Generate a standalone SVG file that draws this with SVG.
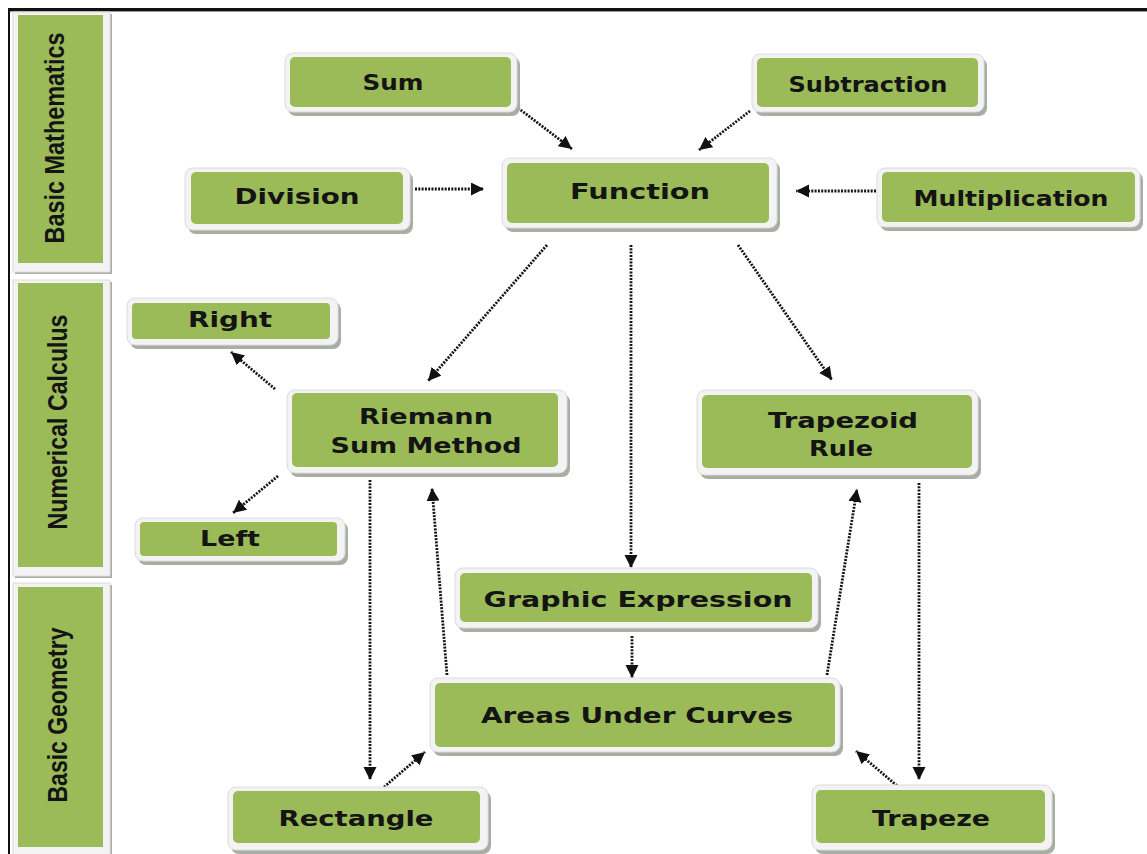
<svg xmlns="http://www.w3.org/2000/svg" width="1147" height="854" viewBox="0 0 1147 854">
<defs>
<marker id="ah" markerUnits="userSpaceOnUse" markerWidth="14" markerHeight="14" refX="13" refY="6.5" orient="auto">
<path d="M0,0 L13,6.5 L0,13 z" fill="#111"/>
</marker>
<style>
.sh{fill:#a9ada4;}
.fr{fill:#f3f3f3;stroke:#dcdcdc;stroke-width:1;}
.gr{fill:#9bbb59;}
.t{font-family:"DejaVu Sans","Verdana",sans-serif;font-weight:bold;font-size:21px;fill:#141414;text-anchor:middle;}
.s{font-family:"Liberation Sans","Arial",sans-serif;font-weight:bold;font-size:27px;fill:#141414;text-anchor:middle;}
.c line{stroke:#141414;stroke-width:2.8;stroke-dasharray:2 1.3;marker-end:url(#ah);}
</style>
</defs>
<rect x="0" y="0" width="1147" height="854" fill="#ffffff"/>
<!-- outer frame -->
<line x1="8" y1="9.5" x2="1147" y2="9.5" stroke="#111" stroke-width="3"/>
<line x1="8" y1="11.5" x2="1147" y2="11.5" stroke="#999" stroke-width="1"/>
<line x1="9" y1="8" x2="9" y2="854" stroke="#111" stroke-width="2"/>

<!-- side bands -->
<g id="band-math">
<rect class="sh" x="15" y="14" width="97" height="260"/>
<rect class="fr" x="13" y="12" width="97" height="260"/>
<rect class="gr" x="18" y="15" width="85" height="248"/>
<text class="s" transform="translate(64,138) rotate(-90)" textLength="211" lengthAdjust="spacingAndGlyphs">Basic Mathematics</text>
</g>
<g id="band-calc">
<rect class="sh" x="15" y="282" width="97" height="296"/>
<rect class="fr" x="13" y="280" width="97" height="296"/>
<rect class="gr" x="18" y="283" width="85" height="284"/>
<text class="s" transform="translate(67,422) rotate(-90)" textLength="215" lengthAdjust="spacingAndGlyphs">Numerical Calculus</text>
</g>
<g id="band-geom">
<rect class="sh" x="15" y="585" width="97" height="272"/>
<rect class="fr" x="13" y="583" width="97" height="272"/>
<rect class="gr" x="18" y="587" width="85" height="260"/>
<text class="s" transform="translate(67,715) rotate(-90)" textLength="175" lengthAdjust="spacingAndGlyphs">Basic Geometry</text>
</g>

<!-- connectors -->
<g id="connectors" class="c">
<line x1="518" y1="108" x2="572" y2="149"/>
<line x1="750" y1="111" x2="699" y2="150"/>
<line x1="415" y1="189" x2="484" y2="189"/>
<line x1="876" y1="191" x2="796" y2="191"/>
<line x1="547" y1="245" x2="428" y2="381"/>
<line x1="631" y1="245" x2="631" y2="568"/>
<line x1="738" y1="245" x2="832" y2="380"/>
<line x1="275" y1="389" x2="231" y2="352"/>
<line x1="278" y1="476" x2="233" y2="513"/>
<line x1="370" y1="480" x2="370" y2="780"/>
<line x1="447" y1="675" x2="432" y2="488"/>
<line x1="632" y1="636" x2="632" y2="678"/>
<line x1="384" y1="787" x2="425" y2="752"/>
<line x1="827" y1="675" x2="857" y2="489"/>
<line x1="919" y1="483" x2="919" y2="780"/>
<line x1="902" y1="790" x2="856" y2="751"/>
</g>

<!-- nodes -->
<g id="n-sum">
<rect class="sh" x="288" y="57" width="232" height="59" rx="8"/>
<rect class="fr" x="285" y="53" width="232" height="59" rx="8"/>
<rect class="gr" x="290" y="57" width="221" height="50" rx="5"/>
<text class="t" x="393" y="90" textLength="61" lengthAdjust="spacingAndGlyphs">Sum</text>
</g>
<g id="n-subtraction">
<rect class="sh" x="755" y="58" width="232" height="58" rx="8"/>
<rect class="fr" x="752" y="54" width="232" height="58" rx="8"/>
<rect class="gr" x="757" y="58" width="221" height="49" rx="5"/>
<text class="t" x="868" y="92" textLength="159" lengthAdjust="spacingAndGlyphs">Subtraction</text>
</g>
<g id="n-function">
<rect class="sh" x="505" y="162" width="275" height="70" rx="8"/>
<rect class="fr" x="502" y="158" width="275" height="70" rx="8"/>
<rect class="gr" x="507" y="163" width="262" height="60" rx="5"/>
<text class="t" x="640" y="199" textLength="140" lengthAdjust="spacingAndGlyphs">Function</text>
</g>
<g id="n-division">
<rect class="sh" x="188" y="172" width="225" height="62" rx="8"/>
<rect class="fr" x="185" y="168" width="225" height="62" rx="8"/>
<rect class="gr" x="191" y="172" width="212" height="52" rx="5"/>
<text class="t" x="297" y="204" textLength="125" lengthAdjust="spacingAndGlyphs">Division</text>
</g>
<g id="n-multiplication">
<rect class="sh" x="880" y="172" width="263" height="59" rx="8"/>
<rect class="fr" x="877" y="168" width="263" height="59" rx="8"/>
<rect class="gr" x="882" y="172" width="253" height="50" rx="5"/>
<text class="t" x="1011" y="206" textLength="195" lengthAdjust="spacingAndGlyphs">Multiplication</text>
</g>
<g id="n-right">
<rect class="sh" x="130" y="302" width="211" height="47" rx="8"/>
<rect class="fr" x="127" y="298" width="211" height="47" rx="8"/>
<rect class="gr" x="132" y="303" width="198" height="36" rx="4"/>
<text class="t" x="230" y="327" textLength="84" lengthAdjust="spacingAndGlyphs">Right</text>
</g>
<g id="n-riemann">
<rect class="sh" x="290" y="394" width="280" height="83" rx="8"/>
<rect class="fr" x="287" y="390" width="280" height="83" rx="8"/>
<rect class="gr" x="292" y="393" width="266" height="74" rx="5"/>
<text class="t" x="426" y="424" textLength="134" lengthAdjust="spacingAndGlyphs">Riemann</text>
<text class="t" x="426" y="453" textLength="191" lengthAdjust="spacingAndGlyphs">Sum Method</text>
</g>
<g id="n-trapezoid">
<rect class="sh" x="700" y="394" width="281" height="85" rx="8"/>
<rect class="fr" x="697" y="390" width="281" height="85" rx="8"/>
<rect class="gr" x="702" y="395" width="270" height="73" rx="5"/>
<text class="t" x="843" y="428" textLength="150" lengthAdjust="spacingAndGlyphs">Trapezoid</text>
<text class="t" x="841" y="456" textLength="64" lengthAdjust="spacingAndGlyphs">Rule</text>
</g>
<g id="n-left">
<rect class="sh" x="138" y="522" width="210" height="43" rx="8"/>
<rect class="fr" x="135" y="518" width="210" height="43" rx="8"/>
<rect class="gr" x="140" y="522" width="197" height="34" rx="4"/>
<text class="t" x="230" y="546" textLength="60" lengthAdjust="spacingAndGlyphs">Left</text>
</g>
<g id="n-graphic">
<rect class="sh" x="458" y="572" width="363" height="60" rx="8"/>
<rect class="fr" x="455" y="568" width="363" height="60" rx="8"/>
<rect class="gr" x="460" y="573" width="352" height="49" rx="5"/>
<text class="t" x="638" y="607" textLength="309" lengthAdjust="spacingAndGlyphs">Graphic Expression</text>
</g>
<g id="n-areas">
<rect class="sh" x="433" y="682" width="410" height="74" rx="8"/>
<rect class="fr" x="430" y="678" width="410" height="74" rx="8"/>
<rect class="gr" x="435" y="683" width="400" height="64" rx="5"/>
<text class="t" x="637" y="723" textLength="312" lengthAdjust="spacingAndGlyphs">Areas Under Curves</text>
</g>
<g id="n-rectangle">
<rect class="sh" x="231" y="791" width="260" height="63" rx="8"/>
<rect class="fr" x="228" y="787" width="260" height="63" rx="8"/>
<rect class="gr" x="233" y="791" width="247" height="52" rx="5"/>
<text class="t" x="356" y="826" textLength="155" lengthAdjust="spacingAndGlyphs">Rectangle</text>
</g>
<g id="n-trapeze">
<rect class="sh" x="815" y="789" width="240" height="65" rx="8"/>
<rect class="fr" x="812" y="785" width="240" height="65" rx="8"/>
<rect class="gr" x="816" y="790" width="229" height="53" rx="5"/>
<text class="t" x="931" y="826" textLength="118" lengthAdjust="spacingAndGlyphs">Trapeze</text>
</g>
</svg>
